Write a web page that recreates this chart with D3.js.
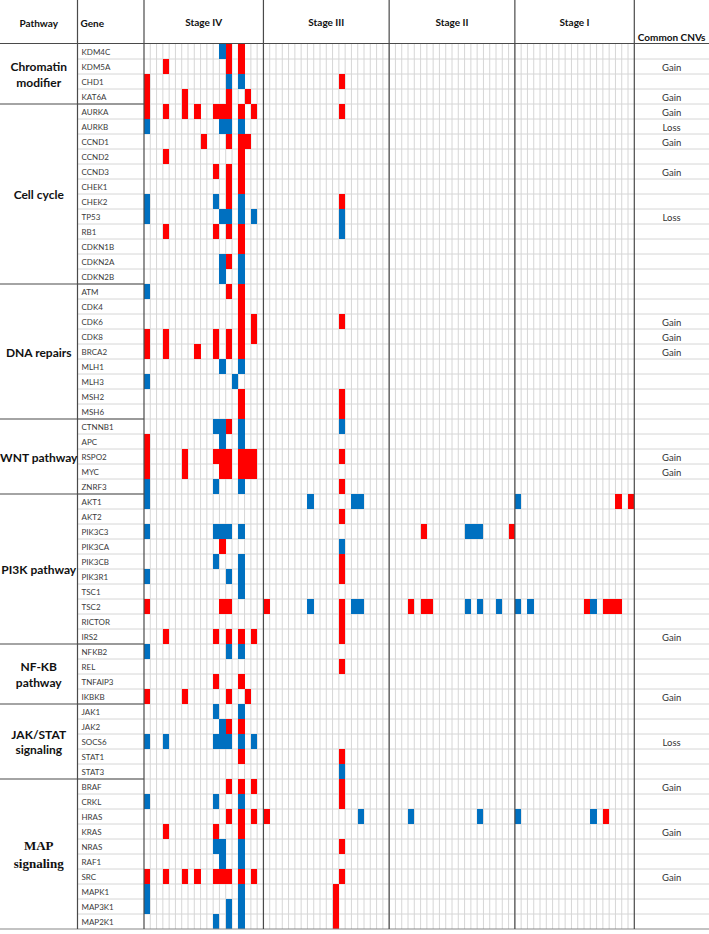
<!DOCTYPE html>
<html>
<head>
<meta charset="utf-8">
<script src="https://cdn.jsdelivr.net/npm/d3@7"></script>
<style>
  html, body { margin: 0; padding: 0; background: #fff; }
  svg { display: block; }
</style>
</head>
<body>
<svg id="chart" width="709" height="934"></svg>
<script>
// ---------------- DATA ----------------
const genes = ["KDM4C","KDM5A","CHD1","KAT6A",
  "AURKA","AURKB","CCND1","CCND2","CCND3","CHEK1","CHEK2","TP53","RB1","CDKN1B","CDKN2A","CDKN2B",
  "ATM","CDK4","CDK6","CDK8","BRCA2","MLH1","MLH3","MSH2","MSH6",
  "CTNNB1","APC","RSPO2","MYC","ZNRF3",
  "AKT1","AKT2","PIK3C3","PIK3CA","PIK3CB","PIK3R1","TSC1","TSC2","RICTOR","IRS2",
  "NFKB2","REL","TNFAIP3","IKBKB",
  "JAK1","JAK2","SOCS6","STAT1","STAT3",
  "BRAF","CRKL","HRAS","KRAS","NRAS","RAF1","SRC","MAPK1","MAP3K1","MAP2K1"];

const pathwayNames = [["Chromatin","modifier"],["Cell cycle"],["DNA repairs"],["WNT pathway"],
  ["PI3K pathway"],["NF-KB","pathway"],["JAK/STAT","signaling"],["MAP","signaling"]];
const pathwaySizes = [4, 12, 9, 5, 10, 4, 5, 10];

const stageNames = ["Stage IV", "Stage III", "Stage II", "Stage I"];
const stageSamples = [19, 20, 20, 19];

// per gene: "G<k>" = gain (red) in sample k of the stage, "L<k>" = loss (blue)
const stageIV = [
  "L12 G13 G15","G3 G13 G15","G0 L13 L15","G0 G6 G13 G16",
  "G0 G3 G6 G8 G11 G12 G13 G15 G17","L0 L12 L13 L15","G9 G13 G15 G16","G3 G15","G11 G13 G15","G13 G15",
  "L0 L11 G13 L15","L0 L12 L13 L15 L17","G3 G11 G13 G15","G15","L12 G13 L15","L12 L15",
  "L0 G13 G15","G15","G15 G17","G0 G3 G11 G13 G15 G17","G0 G3 G8 G11 G13 G15","L12 L15","L0 L14","G15","G15",
  "L11 L12 G13 L15","G0 L12 L15","G0 G6 G11 G12 G13 G15 G16 G17","G0 G6 G12 G13 G15 G16 G17","L0 L11 L15",
  "L0","","L0 L11 L12 L13 L15","G12","L11 L15","L0 L13 L15","L15","G0 G12 G13","","G3 G11 G13 G15 G17",
  "L0 L13 L15","","G11 G15","G0 G6 G13 G16",
  "L11 L15","L12 G13 G15","L0 L3 L11 L12 L13 L15 L17","G15","",
  "G13 G15 G17","L0 L11 L15","G13 G15 G17","G3 G11 G15","L11 L12 L15","L12 L15",
  "G0 G3 G6 G8 G11 G12 G13 G15 G17","L0 L15","L0 L13 L15","L11 L13 L15"];

const stageIII = [
  "","","G12","",
  "G12","","","","","","G12","L12","L12","","","",
  "","","G12","","","","","G12","G12",
  "L12","","G12","","G12",
  "L7 L14 L15","G12","","L12","G12","G12","","G0 L7 G12 L14 L15","G12","G12",
  "","G12","","",
  "","","","G12","L12",
  "G12","G12","G0 L15","","G12","","G12","G11","G11","G11"];

const stageII = [
  "","","","",
  "","","","","","","","","","","","",
  "","","","","","","","","",
  "","","","","",
  "","","G5 L12 L13 L14 G19","","","","","G3 G5 G6 L12 L14 L17","","",
  "","","","",
  "","","","","",
  "","","L3 L14","","","","","","",""];

const stageI = [
  "","","","",
  "","","","","","","","","","","","",
  "","","","","","","","","",
  "","","","","",
  "L0 G16 G18","","","","","","","L0 L2 G11 L12 G14 G15 G16","","",
  "","","","",
  "","","","","",
  "","","L0 L12 G14","","","","","","",""];

const commonCNVs = [
  "","Gain","","Gain",
  "Gain","Loss","Gain","","Gain","","","Loss","","","","",
  "","","Gain","Gain","Gain","","","","",
  "","","Gain","Gain","",
  "","","","","","","","","","Gain",
  "","","","Gain",
  "","","Loss","","",
  "Gain","","","Gain","","","Gain","","",""];

// ---------------- DRAW ----------------
(function draw() {
const svg = d3.select("#chart");
const W = 709, yTop = 44, yBottom = 929;
const xPath = 0, xGene = 77.5, xData0 = 144, xData1 = 634.3, xEnd = 709;
const sansFont = "Lato, 'Open Sans', 'DejaVu Sans', sans-serif";

const nSamples = d3.sum(stageSamples);
const x = d3.scaleBand().domain(d3.range(nSamples)).range([xData0, xData1]).paddingInner(0).paddingOuter(0);
const y = d3.scaleBand().domain(genes).range([yTop, yBottom]).padding(0);
const color = d3.scaleOrdinal().domain(["G","L"]).range(["#FF0000","#0070C0"]);

const stageOffsets = Array.from(d3.cumsum([0, ...stageSamples])); // start index of each stage
const stageData = [stageIV, stageIII, stageII, stageI];
const edgeX = i => (i < nSamples ? x(i) : xData1);

const cells = [];
stageData.forEach((arr, s) => {
  arr.forEach((str, gi) => {
    str.split(/\s+/).filter(Boolean).forEach(tok => {
      cells.push({gene: genes[gi], sample: stageOffsets[s] + (+tok.slice(1)), type: tok[0]});
    });
  });
});

const gridColor = "#d6d6d6";
const darkColor = "#4a4a4a";

// light vertical grid lines within stages
const gGrid = svg.append("g");
gGrid.selectAll("line.v").data(d3.range(1, nSamples)).join("line")
  .attr("x1", d => x(d)).attr("x2", d => x(d))
  .attr("y1", yTop).attr("y2", yBottom)
  .attr("stroke", gridColor).attr("stroke-width", 1);

// light horizontal row lines (gene column through CNV column)
gGrid.selectAll("line.h").data(genes.slice(1)).join("line")
  .attr("x1", xGene).attr("x2", xEnd)
  .attr("y1", d => y(d)).attr("y2", d => y(d))
  .attr("stroke", gridColor).attr("stroke-width", 1);

// cells
svg.append("g").selectAll("rect").data(cells).join("rect")
  .attr("x", d => x(d.sample))
  .attr("y", d => y(d.gene))
  .attr("width", x.bandwidth())
  .attr("height", y.bandwidth())
  .attr("fill", d => color(d.type))
  .attr("shape-rendering", "crispEdges");

// dark structure lines
const gDark = svg.append("g").attr("stroke", darkColor).attr("stroke-width", 1.2);
gDark.append("line").attr("x1", 0).attr("x2", W).attr("y1", 43.5).attr("y2", 43.5);
gDark.append("line").attr("x1", 0).attr("x2", W).attr("y1", yBottom).attr("y2", yBottom).attr("stroke", "#888");
const vSeps = [xGene, xData0, ...stageOffsets.slice(1).map(edgeX)];
gDark.selectAll("line.vs").data(vSeps).join("line")
  .attr("x1", d => d).attr("x2", d => d).attr("y1", 0).attr("y2", yBottom);
const pathStarts = Array.from(d3.cumsum([0, ...pathwaySizes]));
gDark.selectAll("line.ps").data(pathStarts.slice(1, -1)).join("line")
  .attr("x1", 0).attr("x2", xData0)
  .attr("y1", d => y(genes[d])).attr("y2", d => y(genes[d]));

// header texts
const hdr = svg.append("g").attr("font-family", sansFont).attr("font-weight", "bold")
  .attr("font-size", 10).attr("fill", "#111");
hdr.append("text").attr("x", (xPath + xGene) / 2).attr("y", 22.5).attr("text-anchor", "middle")
  .attr("dominant-baseline", "central").text("Pathway");
hdr.append("text").attr("x", xGene + 3).attr("y", 22.5).attr("dominant-baseline", "central").text("Gene");
hdr.selectAll("text.stage").data(stageNames).join("text")
  .attr("x", (d, i) => (edgeX(stageOffsets[i]) + edgeX(stageOffsets[i + 1])) / 2)
  .attr("y", 22).attr("text-anchor", "middle").attr("dominant-baseline", "central").text(d => d);
hdr.append("text").attr("x", (xData1 + xEnd) / 2).attr("y", 37).attr("text-anchor", "middle")
  .attr("dominant-baseline", "central").text("Common CNVs");

// gene labels
svg.append("g").attr("font-family", sansFont).attr("font-size", 8).attr("fill", "#3a3a3a")
  .selectAll("text").data(genes).join("text")
  .attr("x", xGene + 4).attr("y", d => y(d) + y.bandwidth() / 2 + 0.5)
  .attr("dominant-baseline", "central").text(d => d);

// common CNV labels
svg.append("g").attr("font-family", sansFont).attr("font-size", 9.5).attr("fill", "#333")
  .selectAll("text").data(genes.map((g, i) => ({g, v: commonCNVs[i]})).filter(d => d.v)).join("text")
  .attr("x", (xData1 + xEnd) / 2).attr("y", d => y(d.g) + y.bandwidth() / 2 + 0.5)
  .attr("text-anchor", "middle").attr("dominant-baseline", "central").text(d => d.v);

// pathway labels
const pw = svg.append("g").attr("font-weight", "bold").attr("fill", "#111");
pathwayNames.forEach((lines, i) => {
  const y0 = y(genes[pathStarts[i]]);
  const y1 = pathStarts[i + 1] < genes.length ? y(genes[pathStarts[i + 1]]) : yBottom;
  const cy = (y0 + y1) / 2;
  const isSerif = lines[0] === "MAP";
  const lh = isSerif ? 18 : 15.5;
  const t = pw.append("text")
    .attr("font-family", isSerif ? "'Liberation Serif', 'Times New Roman', serif" : sansFont)
    .attr("font-size", isSerif ? 13 : 12)
    .attr("text-anchor", "middle").attr("dominant-baseline", "central");
  lines.forEach((ln, k) => {
    t.append("tspan").attr("x", (xPath + xGene) / 2)
      .attr("y", cy + (k - (lines.length - 1) / 2) * lh).text(ln);
  });
});
})();
</script>
</body>
</html>
